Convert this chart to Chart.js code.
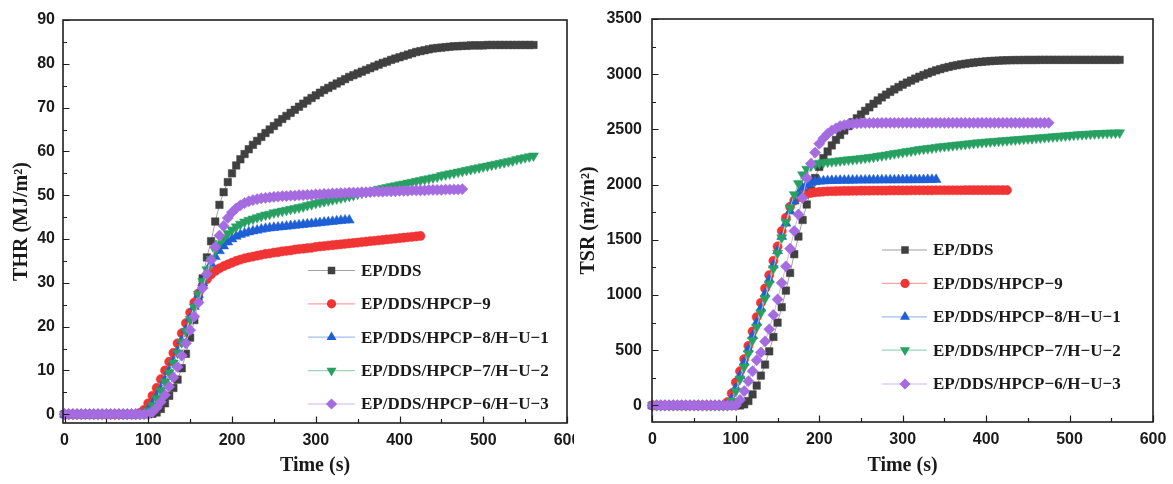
<!DOCTYPE html>
<html><head><meta charset="utf-8">
<script src="https://cdn.jsdelivr.net/npm/chart.js@4.4.1/dist/chart.umd.min.js"></script>
<style>
html,body{margin:0;padding:0;background:#fff;width:1173px;height:484px;overflow:hidden}
#w1{position:absolute;left:0;top:0;width:574px;height:484px}
#w2{position:absolute;left:566px;top:0;width:607px;height:484px}
</style></head><body>
<div id="w1"><canvas id="c1" width="574" height="484"></canvas></div>
<div id="w2"><canvas id="c2" width="607" height="484"></canvas></div>
<script>
// ---- categories (time, s) ----
const time = [0,5,10,15,20,25,30,35,40,45,50,55,60,65,70,75,80,85,90,95,
100,105,110,115,120,125,130,135,140,145,150,155,160,165,170,175,180,185,190,195,
200,205,210,215,220,225,230,235,240,245,250,255,260,265,270,275,280,285,290,295,
300,305,310,315,320,325,330,335,340,345,350,355,360,365,370,375,380,385,390,395,
400,405,410,415,420,425,430,435,440,445,450,455,460,465,470,475,480,485,490,495,
500,505,510,515,520,525,530,535,540,545,550,555,560];

const seriesNames = ['EP/DDS','EP/DDS/HPCP\u22129','EP/DDS/HPCP\u22128/H\u2212U\u22121','EP/DDS/HPCP\u22127/H\u2212U\u22122','EP/DDS/HPCP\u22126/H\u2212U\u22123'];

// ---- THR (MJ/m2) ----
const thrEP = [0,0,0,0,0,0,0,0,0,0, 0,0,0,0,0,0,0,0,0,0,
0,0.1,0.4,1.2,2.5,4.2,6.0,7.9,10.5,13.8,
17.5,21.5,26,31,35.8,39.5,44,47.8,50.7,53,
55,56.8,58.2,59.4,60.5,61.5,62.4,63.3,64.2,65.0,
65.8,66.6,67.4,68.1,68.8,69.5,70.2,70.9,71.6,72.2,
72.8,73.4,74.0,74.5,75.0,75.5,76.0,76.5,77.0,77.4,
77.8,78.2,78.6,79.0,79.4,79.8,80.2,80.5,80.9,81.2,
81.5,81.8,82.1,82.4,82.7,82.9,83.1,83.3,83.5,83.6,
83.7,83.8,83.9,84.0,84.0,84.1,84.1,84.2,84.2,84.2,
84.2,84.3,84.3,84.3,84.3,84.3,84.3,84.3,84.3,84.3,
84.3,84.3,84.3];
const thrH9 = [0,0,0,0,0,0,0,0,0,0, 0,0,0,0,0,0,0,0,0.3,1.0,
2.5,4.2,6.0,8.0,10.0,12.0,14.0,16.2,18.5,20.8,
23.2,25.5,27.6,29.4,30.8,31.9,32.7,33.3,33.8,34.2,
34.6,35.0,35.3,35.6,35.8,36.0,36.2,36.4,36.6,36.7,
36.9,37.0,37.2,37.3,37.4,37.6,37.7,37.8,37.9,38.0,
38.2,38.3,38.4,38.5,38.6,38.7,38.8,38.9,39.0,39.1,
39.2,39.3,39.4,39.5,39.6,39.7,39.8,39.9,40.0,40.1,
40.2,40.3,40.4,40.5,40.6,40.7];
const thrH8 = [0,0,0,0,0,0,0,0,0,0, 0,0,0,0,0,0,0,0,0,0.3,
1.0,2.3,4.0,5.8,7.8,9.9,12.1,14.4,16.8,19.3,
21.9,24.6,27.3,30.0,32.4,34.4,36.0,37.3,38.4,39.3,
40.0,40.6,41.0,41.3,41.6,41.8,42.0,42.2,42.4,42.5,
42.6,42.7,42.8,42.9,43.0,43.1,43.2,43.3,43.4,43.5,
43.6,43.7,43.8,43.9,44.0,44.1,44.2,44.3,44.3];
const thrH7 = [0,0,0,0,0,0,0,0,0,0, 0,0,0,0,0,0,0,0,0,0.2,
0.8,2.0,3.6,5.4,7.4,9.5,11.7,14.0,16.4,19.0,
21.7,24.5,27.4,30.3,33.0,35.4,37.4,39.0,40.3,41.3,
42.1,42.8,43.4,43.9,44.3,44.6,44.9,45.2,45.5,45.7,
46.0,46.2,46.4,46.6,46.8,47.0,47.2,47.4,47.7,47.9,
48.2,48.4,48.6,48.8,49.0,49.2,49.4,49.6,49.8,50.0,
50.3,50.5,50.7,50.9,51.1,51.4,51.6,51.8,52.0,52.2,
52.4,52.6,52.8,53.0,53.2,53.4,53.6,53.8,54.0,54.2,
54.5,54.7,54.9,55.1,55.3,55.5,55.7,55.9,56.1,56.3,
56.5,56.7,56.9,57.1,57.3,57.5,57.7,57.9,58.2,58.4,
58.6,58.8,59.0];
const thrH6 = [0,0,0,0,0,0,0,0,0,0, 0,0,0,0,0,0,0,0,0,0,
0,0.5,1.5,2.8,4.4,6.3,8.4,10.8,13.4,16.2,
19.2,22.3,25.5,28.8,32.0,35.2,38.2,40.8,43.0,44.8,
46.1,47.0,47.7,48.2,48.6,48.9,49.1,49.3,49.4,49.5,
49.6,49.7,49.8,49.8,49.9,49.9,50.0,50.0,50.1,50.1,
50.2,50.2,50.3,50.3,50.4,50.4,50.5,50.5,50.6,50.6,
50.6,50.7,50.7,50.7,50.8,50.8,50.8,50.9,50.9,50.9,
51.0,51.0,51.0,51.1,51.1,51.1,51.1,51.2,51.2,51.2,
51.2,51.3,51.3,51.3,51.3,51.4];

// ---- TSR (m2/m2) ----
const tsrEP = [0,0,0,0,0,0,0,0,0,0, 0,0,0,0,0,0,0,0,0,0,
0,0,10,40,100,180,270,370,490,620,
750,890,1040,1200,1370,1530,1680,1820,1950,2060,
2160,2240,2300,2355,2405,2450,2490,2530,2565,2600,
2635,2668,2700,2732,2762,2790,2815,2840,2862,2884,
2905,2924,2942,2960,2977,2993,3008,3022,3035,3046,
3057,3066,3075,3082,3089,3095,3100,3105,3109,3113,
3116,3119,3121,3123,3125,3126,3127,3128,3128,3129,
3129,3129,3129,3130,3130,3130,3130,3130,3130,3130,
3130,3130,3130,3130,3130,3130,3130,3130,3130,3130,
3130,3130,3130];
const tsrH9 = [0,0,0,0,0,0,0,0,0,0, 0,0,0,0,0,0,0,0,30,110,
210,310,420,540,670,800,930,1060,1180,1310,
1440,1580,1700,1800,1855,1885,1905,1917,1925,1930,
1934,1937,1939,1940,1941,1942,1943,1943,1944,1944,
1945,1945,1945,1946,1946,1946,1946,1947,1947,1947,
1947,1947,1948,1948,1948,1948,1948,1948,1949,1949,
1949,1949,1949,1949,1949,1950,1950,1950,1950,1950,
1950,1950,1950,1950,1950,1950];
const tsrH8 = [0,0,0,0,0,0,0,0,0,0, 0,0,0,0,0,0,0,0,0,60,
160,270,390,510,630,750,880,1010,1140,1270,
1400,1530,1650,1760,1850,1920,1970,2000,2015,2025,
2030,2033,2035,2036,2037,2038,2038,2039,2039,2040,
2040,2040,2041,2041,2041,2042,2042,2042,2042,2043,
2043,2043,2043,2044,2044,2044,2045,2045,2045];
const tsrH7 = [0,0,0,0,0,0,0,0,0,0, 0,0,0,0,0,0,0,0,0,40,
130,240,350,470,590,710,840,970,1100,1240,
1380,1520,1660,1790,1910,2010,2090,2140,2170,2185,
2195,2200,2205,2209,2213,2217,2221,2225,2229,2233,
2237,2241,2246,2251,2257,2263,2269,2275,2282,2288,
2294,2300,2306,2312,2318,2323,2328,2333,2338,2343,
2347,2351,2355,2359,2363,2367,2371,2375,2379,2383,
2386,2389,2392,2395,2398,2401,2404,2407,2410,2413,
2416,2419,2422,2425,2428,2431,2434,2437,2440,2443,
2446,2449,2452,2455,2457,2459,2461,2463,2465,2467,
2468,2469,2470];
const tsrH6 = [0,0,0,0,0,0,0,0,0,0, 0,0,0,0,0,0,0,0,0,0,
0,50,130,220,310,410,480,580,690,820,
960,1110,1260,1420,1580,1730,1880,2060,2190,2290,
2370,2420,2460,2490,2510,2530,2540,2548,2552,2555,
2557,2558,2558,2559,2559,2559,2560,2560,2560,2560,
2560,2560,2560,2560,2560,2560,2560,2560,2560,2560,
2560,2560,2560,2560,2560,2560,2560,2560,2560,2560,
2560,2560,2560,2560,2560,2560,2560,2560,2560,2560,
2560,2560,2560,2560,2560,2560];

// ---- tick labels ----
const xTicks = [0,100,200,300,400,500,600];
const xMinor = [50,150,250,350,450,550];
const thrTicks = [0,10,20,30,40,50,60,70,80,90];
const thrMinor = [5,15,25,35,45,55,65,75,85];
const tsrTicks = [0,500,1000,1500,2000,2500,3000,3500];
const tsrMinor = [250,750,1250,1750,2250,2750,3250];

// ---- styles ----
const markColors = ['#404040','#f03434','#1f5fd6','#27a062','#a56be0'];
const lineColors = ['#a0a0a0','#f4a4a4','#a4bdea','#9fd3b6','#d0b3ef'];
const pStyles = ['rect','circle','triangle','triangle','rectRot'];
const pRot = [0,0,0,180,0];
const pRad = [5.3,4.6,5.8,5.8,5.6];

function mkDatasets(arrs){
  return arrs.map((vals,k)=>({
    label: seriesNames[k],
    data: vals.map((v,i)=>({x: time[i], y: v})),
    borderColor: lineColors[k], borderWidth: 1,
    backgroundColor: markColors[k],
    pointBackgroundColor: markColors[k], pointBorderColor: markColors[k], pointBorderWidth: 0.5,
    pointStyle: pStyles[k], pointRotation: pRot[k], pointRadius: pRad[k],
    showLine: true, tension: 0, clip: false, order: 5-k
  }));
}

function drawMarker(ctx, style, x, y, r, rotDeg, color){
  ctx.save();
  ctx.fillStyle = color;
  ctx.beginPath();
  const rad = rotDeg*Math.PI/180;
  if(style==='circle'){ ctx.arc(x,y,r,0,Math.PI*2); }
  else if(style==='rect'){ const s=r*Math.SQRT1_2; ctx.rect(x-s,y-s,2*s,2*s); }
  else if(style==='triangle'){
    let a = rad;
    ctx.moveTo(x+Math.sin(a)*r, y-Math.cos(a)*r); a += 2*Math.PI/3;
    ctx.lineTo(x+Math.sin(a)*r, y-Math.cos(a)*r); a += 2*Math.PI/3;
    ctx.lineTo(x+Math.sin(a)*r, y-Math.cos(a)*r);
    ctx.closePath();
  } else if(style==='rectRot'){
    ctx.moveTo(x-r,y); ctx.lineTo(x,y-r); ctx.lineTo(x+r,y); ctx.lineTo(x,y+r); ctx.closePath();
  }
  ctx.fill();
  ctx.restore();
}

const frameTicks = {
  id:'frameTicks',
  afterDatasetsDraw(chart, args, o){
    const {ctx, chartArea:{left,right,top,bottom}} = chart;
    const xs = chart.scales.x, ys = chart.scales.y;
    ctx.save();
    ctx.strokeStyle = '#1e1e1e';
    ctx.lineWidth = 1.2;
    ctx.beginPath();
    o.xMajor.forEach(v=>{const p=Math.round(xs.getPixelForValue(v))+0.5; ctx.moveTo(p,bottom); ctx.lineTo(p,bottom-6.5);});
    o.xMinor.forEach(v=>{const p=Math.round(xs.getPixelForValue(v))+0.5; ctx.moveTo(p,bottom); ctx.lineTo(p,bottom-4);});
    o.yMajor.forEach(v=>{const p=Math.round(ys.getPixelForValue(v))+0.5; ctx.moveTo(left,p); ctx.lineTo(left+6.5,p);});
    o.yMinor.forEach(v=>{const p=Math.round(ys.getPixelForValue(v))+0.5; ctx.moveTo(left,p); ctx.lineTo(left+4,p);});
    ctx.stroke();
    ctx.lineWidth = 1.6;
    ctx.strokeRect(left, top, right-left, bottom-top);
    ctx.restore();
  }
};

const lineLegend = {
  id:'lineLegend',
  afterDraw(chart, args, o){
    const ctx = chart.ctx;
    ctx.save();
    chart.data.datasets.forEach((ds,k)=>{
      const y = o.ys[k];
      ctx.strokeStyle = lineColors[k]; ctx.lineWidth = 1.2;
      ctx.beginPath(); ctx.moveTo(o.x1,y); ctx.lineTo(o.x2,y); ctx.stroke();
      drawMarker(ctx, pStyles[k], o.mx, y, pRad[k], pRot[k], markColors[k]);
      ctx.fillStyle = '#1a1a1a';
      ctx.font = 'bold 17px "Liberation Serif", "Times New Roman", serif';
      ctx.textBaseline = 'middle'; ctx.textAlign = 'left';
      ctx.fillText(ds.label, o.tx, y+1);
    });
    ctx.restore();
  }
};

const tickFont = {family:'"Liberation Sans", Arial, sans-serif', size:16, weight:'bold'};
const titleFont = {family:'"Liberation Serif", "Times New Roman", serif', size:20, weight:'bold'};

function makeChart(id, cfg){
  return new Chart(document.getElementById(id), {
    type:'line',
    data:{datasets: mkDatasets(cfg.arrs)},
    plugins:[frameTicks, lineLegend],
    options:{
      responsive:false, animation:false, devicePixelRatio:1,
      layout:{padding:{left:0, top:cfg.top, right:cfg.right, bottom:0}},
      plugins:{legend:{display:false}, tooltip:{enabled:false},
        frameTicks:{xMajor:xTicks, xMinor:xMinor, yMajor:cfg.yTicks, yMinor:cfg.yMinor},
        lineLegend:cfg.legend},
      scales:{
        x:{type:'linear', min:cfg.xmin, max:600,
          afterFit(s){ s.height = cfg.xh; s.paddingLeft = 0; s.paddingRight = 0; },
          afterBuildTicks(s){ s.ticks = xTicks.map(v=>({value:v})); },
          grid:{display:false, drawTicks:false}, border:{display:false},
          ticks:{font:tickFont, color:'#1a1a1a', padding:8, maxRotation:0, autoSkip:false,
                 callback:(v)=>String(v)},
          title:{display:true, text:'Time (s)', font:titleFont, color:'#1a1a1a', padding:{top:0,bottom:6}}
        },
        y:{type:'linear', min:cfg.ymin, max:cfg.ymax,
          afterFit(s){ s.width = cfg.yw; s.paddingTop = 0; s.paddingBottom = 0; },
          afterBuildTicks(s){ s.ticks = cfg.yTicks.map(v=>({value:v})); },
          grid:{display:false, drawTicks:false}, border:{display:false},
          ticks:{font:tickFont, color:'#1a1a1a', padding:cfg.ypad, autoSkip:false,
                 callback:(v)=>String(v)},
          title:{display:true, text:cfg.ytitle, font:titleFont, color:'#1a1a1a', padding:{top:cfg.ytpad,bottom:0}}
        }
      }
    }
  });
}

makeChart('c1', {
  arrs:[thrEP,thrH9,thrH8,thrH7,thrH6],
  top:20, right:7, xh:61, yw:63, xmin:-1.8, ymin:-2, ymax:90,
  yTicks:thrTicks, yMinor:thrMinor, ypad:8, ytpad:10,
  ytitle:'THR (MJ/m\u00B2)',
  legend:{x1:308, x2:355, mx:331.5, tx:361, ys:[270.5,303.8,337.2,370.6,404]}
});
makeChart('c2', {
  arrs:[tsrEP,tsrH9,tsrH8,tsrH7,tsrH6],
  top:19, right:20, xh:62, yw:86, xmin:-0.5, ymin:-150, ymax:3500,
  yTicks:tsrTicks, yMinor:tsrMinor, ypad:10, ytpad:11,
  ytitle:'TSR (m\u00B2/m\u00B2)',
  legend:{x1:316, x2:361, mx:339, tx:367, ys:[250,283.4,316.8,350.2,384]}
});
</script>
</body></html>
